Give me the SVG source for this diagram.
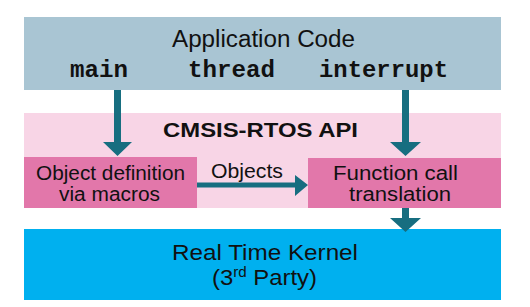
<svg xmlns="http://www.w3.org/2000/svg" width="530" height="307" viewBox="0 0 530 307">
<style>
.t{font-family:"Liberation Sans",Arial,sans-serif;fill:#111;}
.m{font-family:"Liberation Mono","Courier New",monospace;font-weight:bold;fill:#111;}
.arr{fill:#176E80;}
</style>
<rect width="530" height="307" fill="#fff"/>
<g id="band">
<rect x="24" y="113" width="477" height="95" fill="#F8D5E6"/>
<text class="t" x="163" y="137" font-size="21" font-weight="bold" textLength="195" lengthAdjust="spacingAndGlyphs">CMSIS-RTOS API</text>
</g>
<g id="app">
<rect x="24" y="17" width="477" height="73" fill="#A9C5D3"/>
<text class="t" x="172" y="47" font-size="23" textLength="183" lengthAdjust="spacingAndGlyphs">Application Code</text>
<text class="m" x="70" y="77" font-size="23" textLength="58" lengthAdjust="spacingAndGlyphs">main</text>
<text class="m" x="188" y="77" font-size="23" textLength="87" lengthAdjust="spacingAndGlyphs">thread</text>
<text class="m" x="319" y="77" font-size="23" textLength="129" lengthAdjust="spacingAndGlyphs">interrupt</text>
</g>
<g id="objdef">
<rect x="24" y="157" width="173" height="51" fill="#E277AA"/>
<text class="t" x="36" y="180" font-size="19.5" textLength="149" lengthAdjust="spacingAndGlyphs">Object definition</text>
<text class="t" x="59" y="201" font-size="19.5" textLength="101" lengthAdjust="spacingAndGlyphs">via macros</text>
</g>
<g id="fcall">
<rect x="308" y="158" width="193" height="50" fill="#E277AA"/>
<text class="t" x="333" y="180" font-size="19.5" textLength="125" lengthAdjust="spacingAndGlyphs">Function call</text>
<text class="t" x="349" y="201" font-size="19.5" textLength="102" lengthAdjust="spacingAndGlyphs">translation</text>
</g>
<g id="kernel">
<rect x="24" y="229" width="477" height="71" fill="#00B0EF"/>
<text class="t" x="172" y="260" font-size="22" textLength="186" lengthAdjust="spacingAndGlyphs">Real Time Kernel</text>
<text class="t" x="212" y="285" font-size="22" textLength="105" lengthAdjust="spacingAndGlyphs">(3<tspan font-size="14" dy="-8">rd</tspan><tspan dy="8"> Party)</tspan></text>
</g>
<g id="connectors">
<polygon class="arr" points="114,90 121,90 121,142 132,142 117.5,156 103,142 114,142"/>
<polygon class="arr" points="402,90 409,90 409,142 421,142 405.5,156 390,142 402,142"/>
<polygon class="arr" points="197,182.5 295,182.5 295,175 308,185 295,196 295,187.5 197,187.5"/>
<text class="t" x="211" y="178" font-size="20" textLength="72" lengthAdjust="spacingAndGlyphs">Objects</text>
<polygon class="arr" points="402,208 409,208 409,218 421,218 405.5,232 390,218 402,218"/>
</g>
</svg>
